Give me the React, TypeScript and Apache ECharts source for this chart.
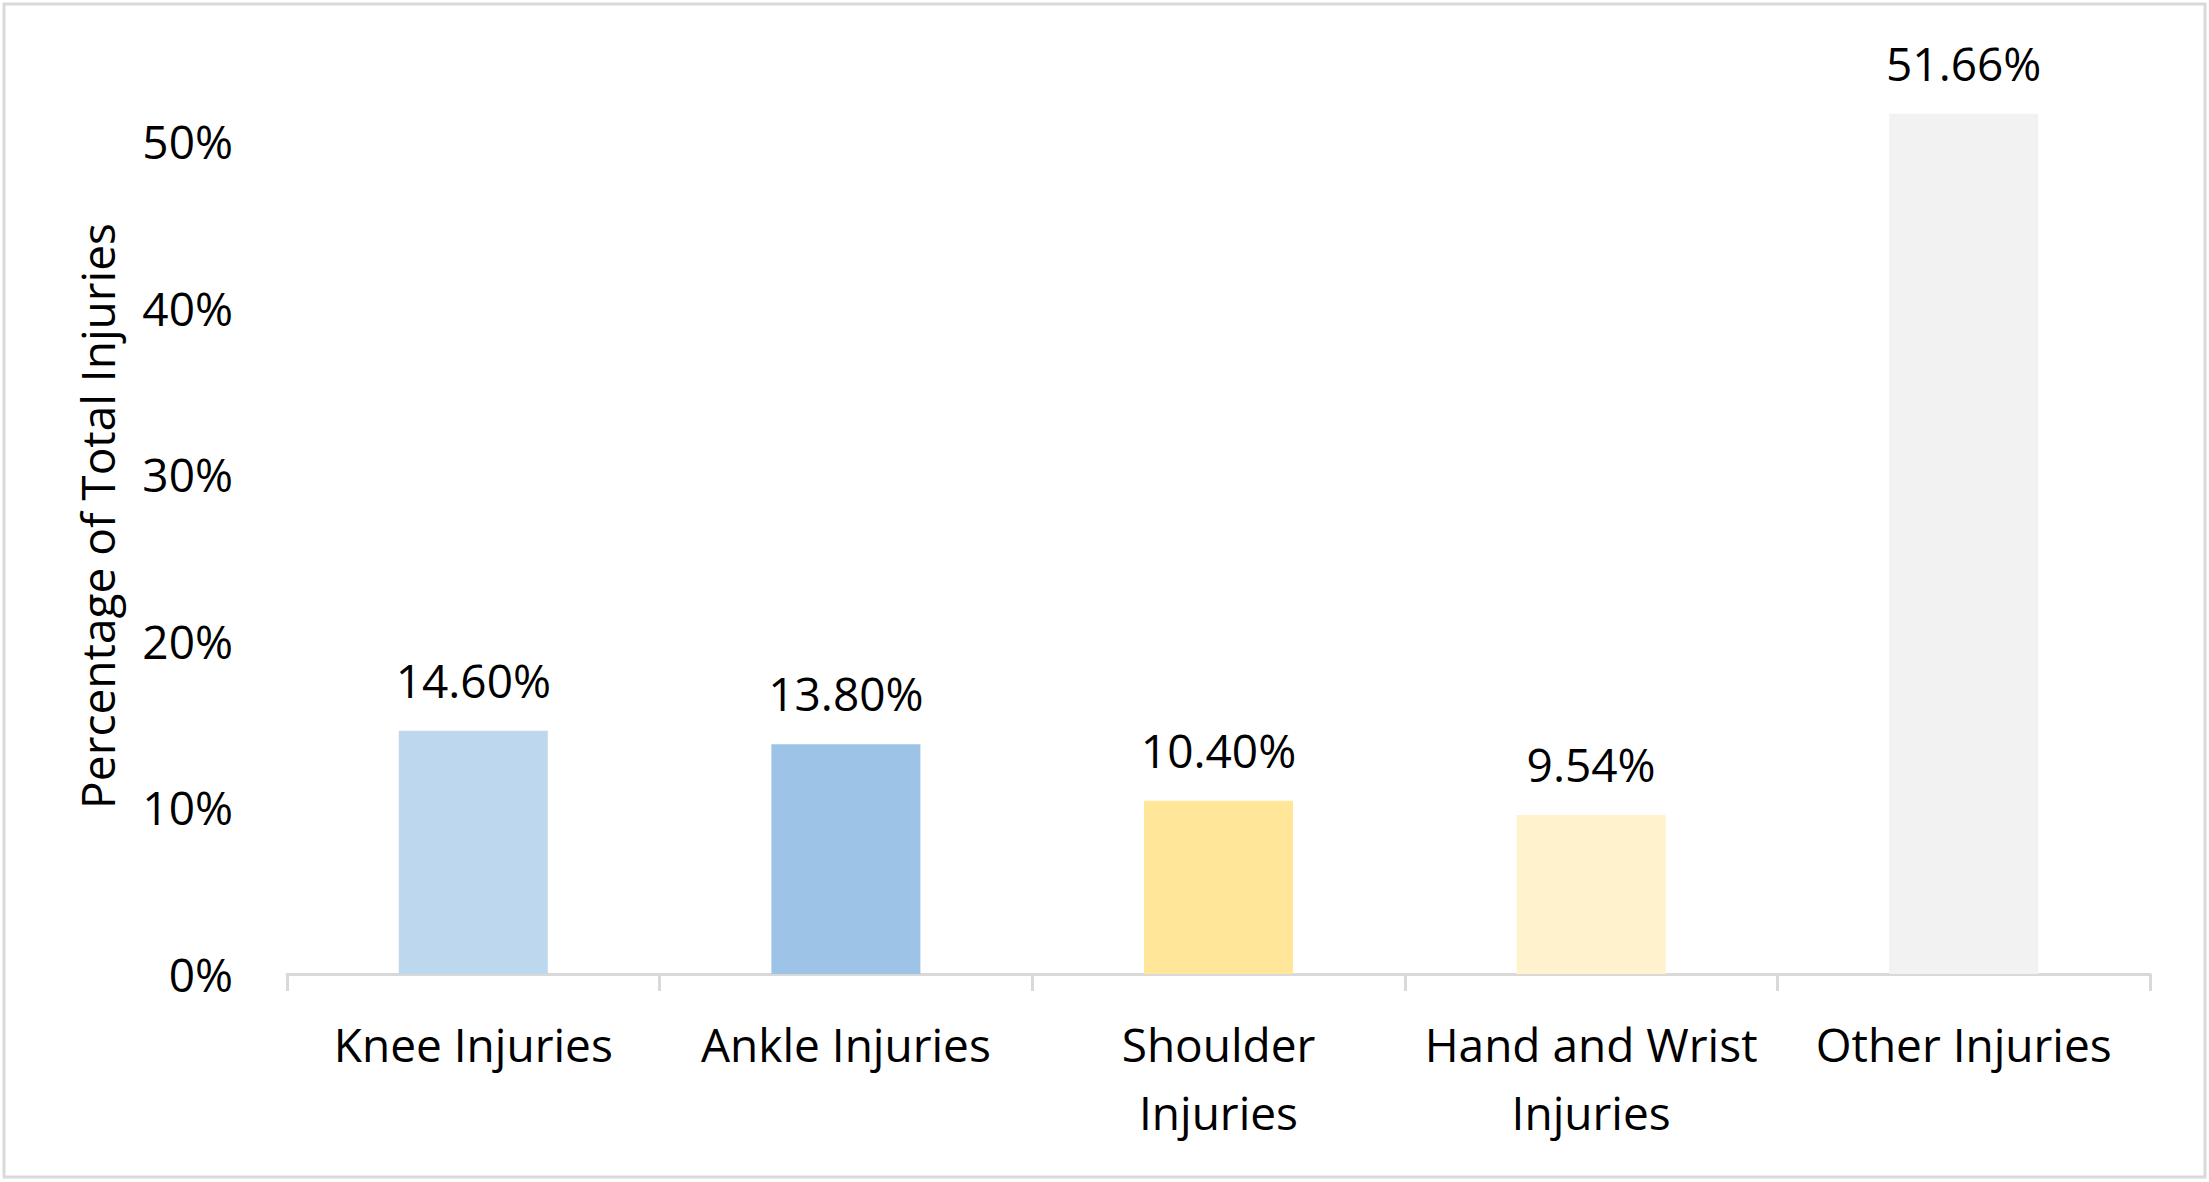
import { useEffect, useRef } from "react";
import * as echarts from "echarts";

// injury categories (line breaks as in the original axis labels)
const categories = [
  "Knee Injuries",
  "Ankle Injuries",
  "Shoulder\nInjuries",
  "Hand and Wrist\nInjuries",
  "Other Injuries",
];
// share of total injuries, in percent
const shares = [14.6, 13.8, 10.4, 9.54, 51.66];
const barColors = ["#BDD7EE", "#9DC3E6", "#FFE699", "#FFF2CC", "#F2F2F2"];
const yTicks = [0, 10, 20, 30, 40, 50];

const FONT = "'Open Sans', 'Noto Sans', sans-serif";

export default function App() {
  const chartRef = useRef<HTMLDivElement>(null);

  useEffect(() => {
    document.body.style.margin = "0";
    if (!chartRef.current) return;
    const chart = echarts.init(chartRef.current, null, { renderer: "svg" });

    chart.setOption({
      animation: false,
      backgroundColor: "#ffffff",
      textStyle: { fontFamily: FONT },
      graphic: [
        {
          type: "rect",
          shape: { x: 4, y: 4, width: 2201, height: 1173 },
          style: { fill: "none", stroke: "#d9d9d9", lineWidth: 3 },
          silent: true,
        },
      ],
      grid: { left: 287, right: 59, top: 58, bottom: 208 },
      xAxis: {
        type: "category",
        data: categories,
        axisLine: { lineStyle: { color: "#d9d9d9", width: 3 } },
        axisTick: { show: true, length: 17, lineStyle: { color: "#d9d9d9", width: 3 } },
        axisLabel: {
          color: "#000",
          fontSize: 46,
          fontFamily: FONT,
          lineHeight: 68,
          margin: 36,
          interval: 0,
        },
      },
      yAxis: {
        type: "value",
        min: 0,
        max: 55,
        interval: 10,
        name: "Percentage of Total Injuries",
        nameLocation: "middle",
        nameRotate: 90,
        nameGap: 167,
        nameTextStyle: { color: "#000", fontSize: 46, fontFamily: FONT },
        axisLine: { show: false },
        axisTick: { show: false },
        splitLine: { show: false },
        axisLabel: {
          color: "#000",
          fontSize: 46,
          fontFamily: FONT,
          margin: 54,
          showMaxLabel: false,
          formatter: (v: number) => (yTicks.includes(v) ? `${v}%` : ""),
        },
      },
      series: [
        {
          type: "bar",
          barWidth: "40%",
          data: shares.map((v, i) => ({ value: v, itemStyle: { color: barColors[i] } })),
          label: {
            show: true,
            position: "top",
            distance: 28,
            color: "#000",
            fontSize: 46,
            fontFamily: FONT,
            formatter: (p: any) => `${Number(p.value).toFixed(2)}%`,
          },
        },
      ],
    });

    return () => {
      chart.dispose();
    };
  }, []);

  return <div ref={chartRef} style={{ width: 2209, height: 1182 }} />;
}
